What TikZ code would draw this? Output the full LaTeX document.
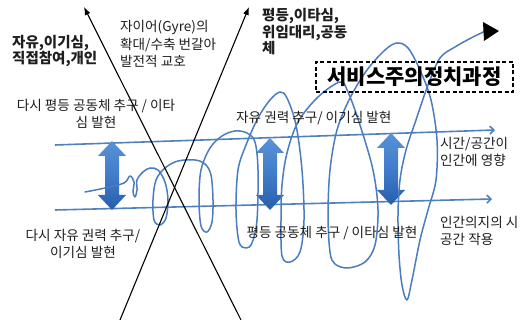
\documentclass[tikz,border=0pt]{standalone}
\usepackage{fontspec}
\setmainfont{Noto Sans CJK KR}
\usetikzlibrary{arrows.meta}
\definecolor{lineblue}{RGB}{79,129,189}
\definecolor{scribblue}{RGB}{74,125,192}
\definecolor{arrtop}{RGB}{88,146,214}
\definecolor{arrmid}{RGB}{64,124,202}
\definecolor{arrbot}{RGB}{40,94,172}
\definecolor{txt}{RGB}{30,30,30}
\newcommand\dblarw[3]{%
  \shade[arrowshade] (#1,#2) -- ({#1+14},{#2+15}) -- ({#1+7},{#2+15}) -- ({#1+7},{#3-15}) -- ({#1+14},{#3-15}) -- (#1,#3) -- ({#1-14},{#3-15}) -- ({#1-7},{#3-15}) -- ({#1-7},{#2+15}) -- ({#1-14},{#2+15}) -- cycle;}
\begin{document}
\begin{tikzpicture}[x=1pt,y=-1pt,
  lbl/.style={inner sep=0pt, font=\fontsize{13.6}{17.5}\selectfont, text=txt},
  blbl/.style={inner sep=0pt, font=\fontsize{14.5}{16.5}\selectfont\bfseries, text=txt},
  blackarrow/.style={line width=1.1pt, -{Latex[length=8pt,width=6pt]}},
  bluearrow/.style={line width=1.6pt, lineblue, -{Straight Barb[length=4pt,width=8pt]}},
  scrib/.style={line width=1.5pt, scribblue, line join=round, line cap=round},
  arrowshade/.style={top color=arrtop, bottom color=arrbot, middle color=arrmid}]
\useasboundingbox (0,0) rectangle (525,320);
\fill[white] (0,0) rectangle (525,320);

% blue time lines
\coordinate (u1) at (55,145);
\coordinate (u2) at (495,130);
\coordinate (d1) at (55,210);
\coordinate (d2) at (492,199);
\draw[bluearrow] (u1) -- (u2);
\draw[bluearrow] (d1) -- (d2);

% double arrows
\dblarw{112}{141}{210}
\dblarw{270}{138}{210}
\dblarw{391}{133}{205}

% scribble (gyre)
\draw[scrib] plot[smooth, tension=0.55] coordinates {
(85,192) (105,188) (124,183) (130,176) (134,182) (133,192) (135,197) (137,190) (137,180)
(143,172) (150,168) (158,170) (165,182) (168,200) (166,218) (160,225) (154,220) (153,200)
(156,180) (165,168) (178,161) (195,160) (205,164) (211,175) (213,200) (212,222) (207,232)
(201,226) (199,200) (201,170) (210,148) (222,136) (235,131) (247,133) (255,142) (258,170)
(257,220) (252,243) (246,248) (239,242) (236,210) (238,170) (246,145) (258,118) (270,100)
(280,92) (287,98) (296,125) (302,170) (304,220) (300,252) (290,262) (282,256) (281,220)
(282,185) (287,153) (298,122) (318,97) (340,82) (348,92) (360,125) (373,170) (378,210)
(375,245) (365,262) (348,268) (335,264) (330,252) (328,215) (330,170) (337,130) (350,98)
(367,70) (385,50) (397,43) (408,48) (420,70) (431,100) (437,140) (436,180) (428,210)
(420,240) (412,280) (407,300) (402,285) (399,255) (398,215) (400,180) (406,150) (416,120)
(428,85) (440,58) (455,47) (473,37) (490,29)};
\fill (483,22) -- (499,31) -- (484,41) -- cycle;

% black crossing arrows
\coordinate (a1s) at (241,320);
\coordinate (a1e) at (84,7);
\coordinate (a2s) at (120,320);
\coordinate (a2e) at (249,7);
\draw[blackarrow] (a1s) -- (a1e);
\draw[blackarrow] (a2s) -- (a2e);

% title box
\node[draw, dashed, line width=1.2pt, dash pattern=on 4pt off 2.5pt, minimum width=197pt, minimum height=30pt, inner sep=0pt,
  font=\fontsize{21}{24}\selectfont\bfseries] (title) at (414.5,77) {서비스주의정치과정};

% labels
\node[blbl, align=left, anchor=west] (t1) at (12,51) {자유,이기심,\\직접참여,개인};
\node[lbl, align=left, anchor=west] (t2) at (120,44) {자이어(Gyre)의\\확대/수축 번갈아\\발전적 교호};
\node[blbl, align=left, anchor=west] (t3) at (262,32) {평등,이타심,\\위임대리,공동\\체};
\node[lbl, align=center] (t4) at (96,114) {다시 평등 공동체 추구 / 이타\\심 발현};
\node[lbl, anchor=west] (t5) at (236,118) {자유 권력 추구/ 이기심 발현};
\node[lbl, align=left, anchor=west] (t6) at (440,152) {시간/공간이\\인간에 영향};
\node[lbl, align=center] (t7) at (83,244) {다시 자유 권력 추구/\\이기심 발현};
\node[lbl] (t8) at (332,233) {평등 공동체 추구 / 이타심 발현};
\node[lbl, align=left, anchor=west] (t9) at (440,231) {인간의지의 시\\공간 작용};
\end{tikzpicture}
\end{document}
